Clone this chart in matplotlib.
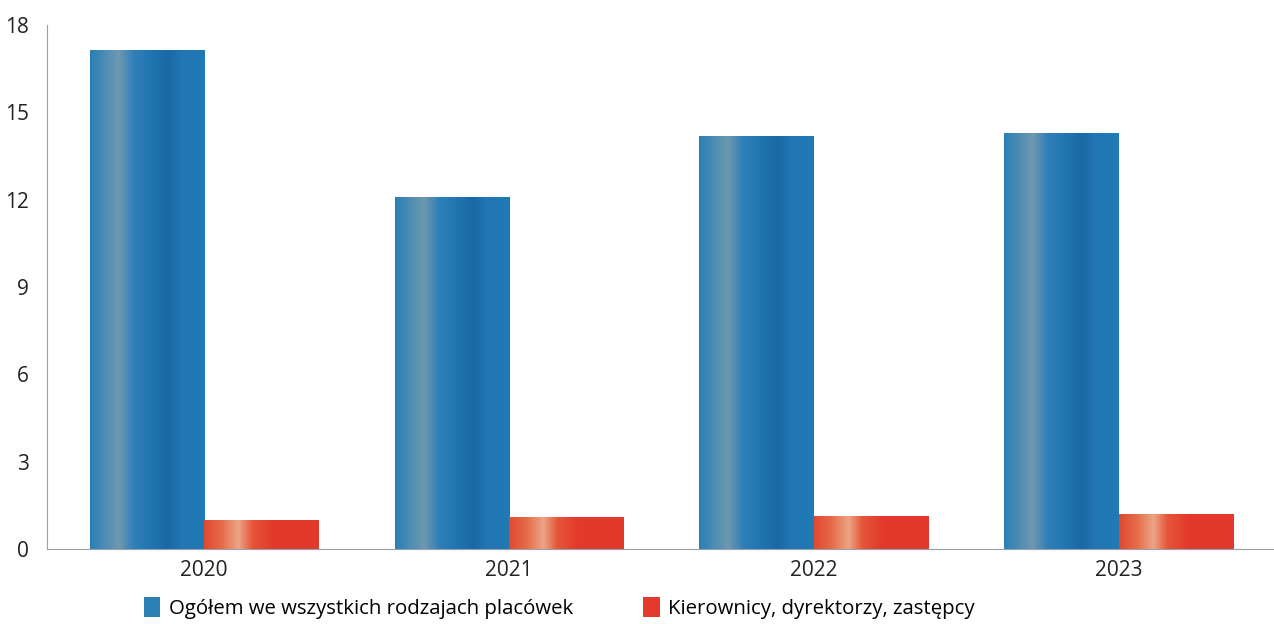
import numpy as np
import matplotlib.pyplot as plt
from matplotlib.colors import LinearSegmentedColormap
from matplotlib.patches import Patch

plt.rcParams['font.family'] = ['Open Sans', 'DejaVu Sans']

lata = ['2020', '2021', '2022', '2023']
ogolem = [17.15, 12.1, 14.2, 14.3]
kierownicy = [1.0, 1.1, 1.15, 1.2]
nazwy = ['Ogółem we wszystkich rodzajach placówek', 'Kierownicy, dyrektorzy, zastępcy']

# gradienty "walcowe" jak na skanie
cm_blue = LinearSegmentedColormap.from_list('b', [
    (0.0, '#2a7fb6'), (0.12, '#4a8cb4'), (0.25, '#6f98b0'), (0.38, '#2f80b8'),
    (0.55, '#1f74b0'), (0.68, '#1b68a5'), (0.8, '#2177b3'), (1.0, '#1f7ab6')])
cm_red = LinearSegmentedColormap.from_list('r', [
    (0.0, '#e0492f'), (0.15, '#e56a48'), (0.3, '#eca585'), (0.42, '#e6563a'),
    (0.6, '#e3392c'), (1.0, '#e4392d')])

fig = plt.figure(figsize=(12.74, 6.24), dpi=100)
ax = fig.add_axes([0.037, 0.12, 0.963, 0.84])

x = np.arange(len(lata))
w = 0.375
b1 = ax.bar(x - w / 2, ogolem, w, color='#1f77b4', zorder=2)
b2 = ax.bar(x + w / 2, kierownicy, w, color='#e4392d', zorder=2)

grad = np.linspace(0, 1, 256).reshape(1, -1)
for bars, cm in ((b1, cm_blue), (b2, cm_red)):
    for p in bars:
        x0, y0 = p.get_x(), p.get_y()
        im = ax.imshow(grad, cmap=cm, aspect='auto', zorder=3,
                       extent=[x0, x0 + p.get_width(), y0, y0 + p.get_height()])
        im.set_clip_path(p)

ax.set_xlim(-0.515, 3.51)
ax.set_ylim(0, 18)
ax.set_yticks([0, 3, 6, 9, 12, 15, 18])
ax.set_xticks(x)
ax.set_xticklabels(lata)
ax.tick_params(length=0, labelsize=15, colors='#222222')
ax.tick_params(axis='x', pad=8)
ax.tick_params(axis='y', pad=13)
for s in ['top', 'right']:
    ax.spines[s].set_visible(False)
ax.spines['left'].set_color('#9aa0a6')
ax.spines['bottom'].set_color('#9aa0a6')
ax.spines['left'].set_linewidth(0.8)
ax.spines['bottom'].set_linewidth(0.8)

uchwyty = [Patch(facecolor='#2a7fb6'), Patch(facecolor='#e4392d')]
fig.legend(uchwyty, nazwy, loc='center', bbox_to_anchor=(0.439, 0.026), ncol=2,
           frameon=False, fontsize=14.7, handlelength=0.8, handleheight=1.1,
           handletextpad=0.4, columnspacing=3.45)

fig.savefig('out.png', dpi=100, facecolor='white')
